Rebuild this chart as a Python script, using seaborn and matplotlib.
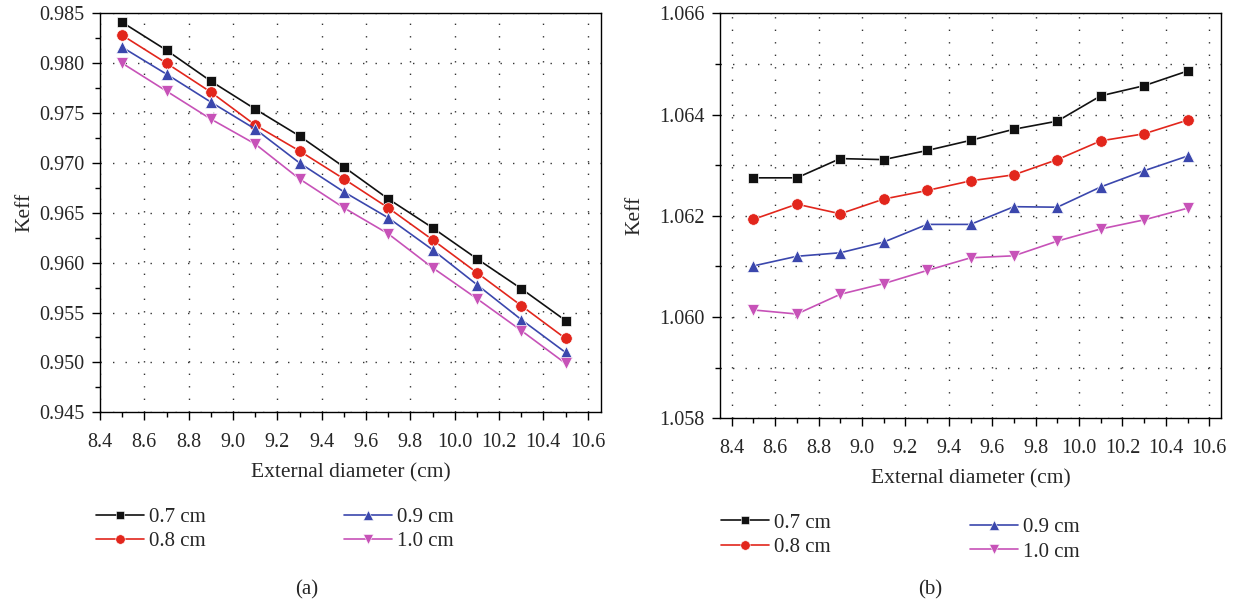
import numpy as np
import pandas as pd
import matplotlib
matplotlib.use("Agg")
import matplotlib.pyplot as plt
from matplotlib.lines import Line2D
from matplotlib.ticker import MultipleLocator, FormatStrFormatter
import seaborn as sns

# External diameter of the fuel element (cm)
diameters = [8.5, 8.7, 8.9, 9.1, 9.3, 9.5, 9.7, 9.9, 10.1, 10.3, 10.5]
thickness_labels = ["0.7 cm", "0.8 cm", "0.9 cm", "1.0 cm"]

# Panel (a)
keff_a_07 = [0.9841, 0.9813, 0.9782, 0.9754, 0.9727, 0.9696, 0.9664, 0.9635, 0.9604, 0.9574, 0.9542]
keff_a_08 = [0.9828, 0.9800, 0.9771, 0.9738, 0.9712, 0.9684, 0.9655, 0.9623, 0.9590, 0.9557, 0.9524]
keff_a_09 = [0.9816, 0.9789, 0.9761, 0.9734, 0.9700, 0.9671, 0.9645, 0.9613, 0.9578, 0.9543, 0.9510]
keff_a_10 = [0.9800, 0.9772, 0.9744, 0.9719, 0.9684, 0.9655, 0.9629, 0.9595, 0.9564, 0.9532, 0.9499]

# Panel (b)
keff_b_07 = [1.06275, 1.06275, 1.06313, 1.06311, 1.06329, 1.06349, 1.06371, 1.06387, 1.06437, 1.06457, 1.06486]
keff_b_08 = [1.06193, 1.06223, 1.06204, 1.06233, 1.06250, 1.06269, 1.06281, 1.06311, 1.06348, 1.06362, 1.06389]
keff_b_09 = [1.06101, 1.06120, 1.06127, 1.06148, 1.06183, 1.06183, 1.06218, 1.06217, 1.06257, 1.06289, 1.06318]
keff_b_10 = [1.06014, 1.06006, 1.06045, 1.06066, 1.06092, 1.06117, 1.06121, 1.06150, 1.06174, 1.06192, 1.06215]

colors = ["#111111", "#e2261c", "#3b47ad", "#c752b8"]
markers = ["s", "o", "^", "v"]
marker_sizes = [7.2, 8.3, 8.8, 8.8]
legend_marker_sizes = [6.0, 6.8, 7.4, 7.4]


def long_table(series):
    rows = []
    for label, values in zip(thickness_labels, series):
        for d, k in zip(diameters, values):
            rows.append({"diameter": d, "keff": k, "thickness": label})
    return pd.DataFrame(rows)


df_a = long_table([keff_a_07, keff_a_08, keff_a_09, keff_a_10])
df_b = long_table([keff_b_07, keff_b_08, keff_b_09, keff_b_10])

sns.set_theme(style="white")
plt.rcParams["font.family"] = ["Liberation Serif", "DejaVu Serif"]
plt.rcParams["font.size"] = 14

fig = plt.figure(figsize=(12.36, 6.08), dpi=100)
ax_a = fig.add_axes([100 / 1236, 1 - 412.3 / 608, 501 / 1236, 399 / 608])
ax_b = fig.add_axes([720 / 1236, 1 - 418.3 / 608, 501 / 1236, 405 / 608])

grid_kw = dict(color="#333333", linestyle=(0, (1, 8)), linewidth=1.0)


def draw_panel(ax, df, xlim, ylim, ymajor, yminor, minor_grid, ylabel_x):
    for i, label in enumerate(thickness_labels):
        sub = df[df["thickness"] == label]
        sns.lineplot(data=sub, x="diameter", y="keff", ax=ax, color=colors[i],
                     marker=markers[i], markersize=marker_sizes[i],
                     markeredgecolor="white", markeredgewidth=0.5,
                     linewidth=1.2, legend=False, errorbar=None, zorder=3)
    ax.set_xlim(*xlim)
    ax.set_ylim(*ylim)
    ax.xaxis.set_major_locator(MultipleLocator(0.2))
    ax.xaxis.set_minor_locator(MultipleLocator(0.1))
    ax.yaxis.set_major_locator(MultipleLocator(ymajor))
    ax.yaxis.set_minor_locator(MultipleLocator(yminor))
    ax.xaxis.set_major_formatter(FormatStrFormatter("%.1f"))
    ax.yaxis.set_major_formatter(FormatStrFormatter("%.3f"))
    ax.tick_params(axis="both", which="major", direction="out", length=6, width=1.0,
                   labelsize=14.5, color="black", bottom=True, left=True)
    ax.tick_params(axis="x", which="major", pad=9)
    ax.tick_params(axis="y", which="major", pad=5)
    ax.tick_params(axis="both", which="minor", direction="out", length=3.5, width=1.0,
                   color="black", bottom=True, left=True)
    ax.grid(True, which="major", **grid_kw)
    if minor_grid:
        ax.grid(True, which="minor", axis="y", **grid_kw)
    ax.set_axisbelow(True)
    for side in ["left", "bottom", "top", "right"]:
        ax.spines[side].set_color("black")
        ax.spines[side].set_linewidth(1.0)
    ax.set_xlabel("External diameter (cm)", fontsize=15.5, labelpad=8)
    ax.set_ylabel("Keff", fontsize=15.5)
    ax.yaxis.set_label_coords(ylabel_x, 0.5)


draw_panel(ax_a, df_a, (8.4, 10.66), (0.945, 0.985), 0.005, 0.0025, False, -0.13)
draw_panel(ax_b, df_b, (8.346, 10.654), (1.058, 1.066), 0.002, 0.001, True, -0.15)

handles = [Line2D([], [], color=c, marker=m, markersize=s, linewidth=1.2,
                  markeredgecolor="white", markeredgewidth=0.4)
           for c, m, s in zip(colors, markers, legend_marker_sizes)]

leg_kw = dict(frameon=False, fontsize=15, handlelength=2.3, handletextpad=0.25,
              labelspacing=0.22, borderpad=0, borderaxespad=0, loc="center left")


def add_legend(idx, x, y):
    return fig.legend([handles[i] for i in idx], [thickness_labels[i] for i in idx],
                      bbox_to_anchor=(x, y), bbox_transform=fig.transFigure, **leg_kw)


add_legend([0, 1], 96 / 1236, 1 - 529.2 / 608)
add_legend([2, 3], 344 / 1236, 1 - 529.2 / 608)
add_legend([0, 1], 721 / 1236, 1 - 535.0 / 608)
add_legend([2, 3], 970 / 1236, 1 - 539.7 / 608)

fig.text(307 / 1236, 1 - 590 / 608, "(a)", ha="center", va="center", fontsize=15)
fig.text(930 / 1236, 1 - 590 / 608, "(b)", ha="center", va="center", fontsize=15)

fig.savefig("out.png", dpi=100)
